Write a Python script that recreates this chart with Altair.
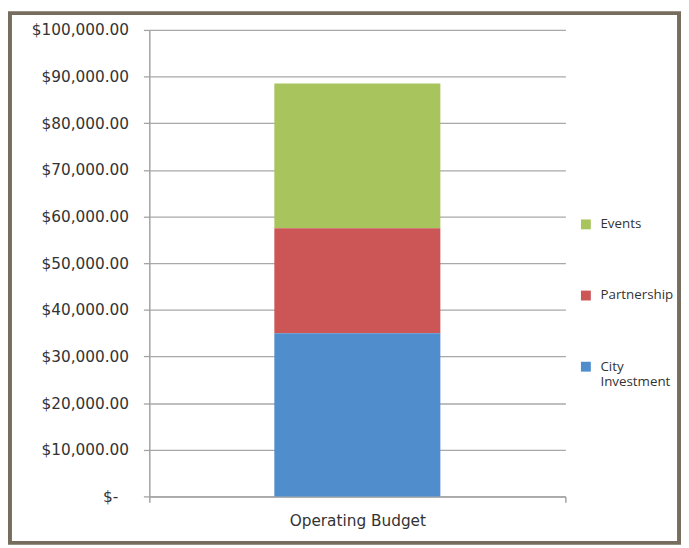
import altair as alt
import pandas as pd

categories = ["Operating Budget"]
series = ["Events", "Partnership", "City Investment"]
values = [31000, 22500, 35000]
stack_order = [2, 1, 0]
colors = ["#a8c55d", "#cc5656", "#4f8dcd"]
y_ticks = [0, 10000, 20000, 30000, 40000, 50000, 60000, 70000, 80000, 90000, 100000]

df = pd.DataFrame({
    "category": [categories[0]] * len(series),
    "series": series,
    "value": values,
    "ord": stack_order,
})

label_expr = "datum.value == 0 ? '$-' : '$' + format(datum.value, ',.2f')"

bars = alt.Chart(df).mark_bar(size=168).encode(
    x=alt.X("category:N", title=None,
            scale=alt.Scale(paddingInner=0, paddingOuter=0),
            axis=alt.Axis(labelAngle=0, tickBand="extent", grid=False,
                          domainColor="#a3a3a3", tickColor="#a3a3a3",
                          domainWidth=1.5, tickWidth=1.5, tickSize=6,
                          labelFont="DejaVu Sans", labelFontSize=15.5,
                          labelColor="#333333", labelPadding=11)),
    y=alt.Y("value:Q", title=None, stack="zero",
            scale=alt.Scale(domain=[0, 100000], nice=False),
            axis=alt.Axis(values=y_ticks, labelExpr=label_expr,
                          gridColor="#a8a8a8", gridWidth=1.3,
                          domainColor="#a3a3a3", tickColor="#a3a3a3",
                          domainWidth=1.5, tickWidth=1.3, tickSize=6,
                          labelFont="DejaVu Sans", labelFontSize=15.5,
                          labelColor="#333333",
                          labelPadding={"condition": {"test": "datum.value === 0", "value": 26},
                                        "value": 15})),
    color=alt.Color("series:N", title=None,
                    scale=alt.Scale(domain=series, range=colors),
                    legend=alt.Legend(orient="none", legendX=435, legendY=190,
                                      symbolType="square", symbolSize=100,
                                      symbolStrokeWidth=0,
                                      labelFont="Open Sans", labelFontSize=13.5,
                                      labelColor="#333333", labelOffset=8,
                                      rowPadding=57, padding=0,
                                      labelExpr="datum.label == 'City Investment' ? ['City', 'Investment'] : datum.label")),
    order=alt.Order("ord:Q"),
)

frame_df = pd.DataFrame({"f": [1]})
frame = alt.Chart(frame_df).mark_rect(fillOpacity=0, stroke="#776d5f", strokeWidth=4).encode(
    x=alt.value(-141), x2=alt.value(536), y=alt.value(-17), y2=alt.value(519)
)

chart = alt.layer(bars, frame).properties(
    width=421, height=472, padding=0, background="white"
).configure_view(stroke=None)

chart.save("out.html", embed_options={"renderer": "svg", "actions": False})
